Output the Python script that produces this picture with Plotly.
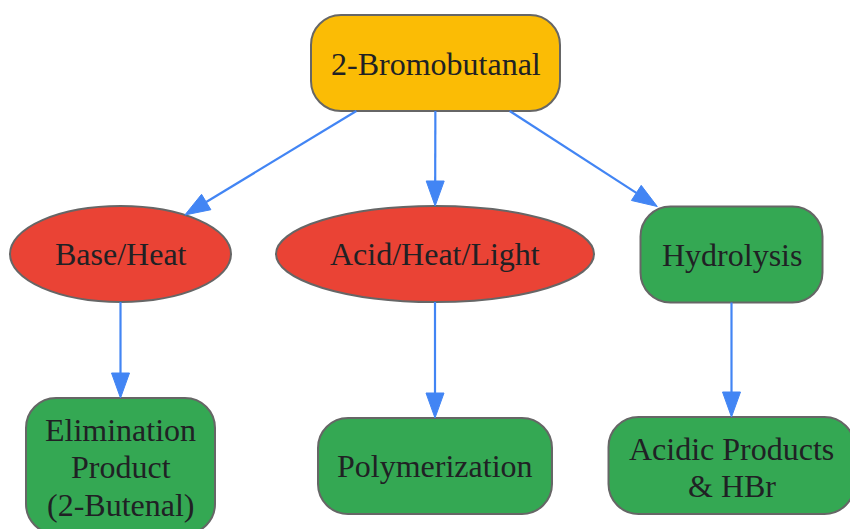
import plotly.graph_objects as go
import math

# ---- data ----
node_labels = ["2-Bromobutanal", "Base/Heat", "Acid/Heat/Light", "Hydrolysis",
               "Elimination<br>Product<br>(2-Butenal)", "Polymerization",
               "Acidic Products<br>& HBr"]
edge_src = [0, 0, 0, 1, 2, 3]
edge_dst = [1, 2, 3, 4, 5, 6]

# ---- layout / style (pixel coordinates) ----
node_cx = [435.5, 120.5, 435, 731.5, 120.5, 435, 731.5]
node_cy = [63, 254, 254, 254.5, 466, 466, 465.5]
node_w = [249, 221, 318, 182, 189, 234, 246]
node_h = [96, 96, 96, 96, 136, 96, 97]
node_shape = ["round", "ellipse", "ellipse", "round", "round", "round", "round"]
node_fill = ["#FBBC05", "#EA4335", "#EA4335", "#34A853", "#34A853", "#34A853", "#34A853"]
text_y_off = [1, 0, 0, 0, 1, 0, 2]
BORDER = "#666666"
EDGE = "#4285F4"
TEXT = "#202124"
FONT_SIZE = 32
LINE_GAP = 37.5
RADIUS = 30
AH_LEN, AH_HW = 25, 9
W, H = 850, 529

fig = go.Figure()
shapes = []

K = 0.5523
def rounded_path(cx, cy, w, h, r):
    x0, x1, y0, y1 = cx - w/2, cx + w/2, cy - h/2, cy + h/2
    c = r * (1 - K)
    return (f"M {x0+r},{y0} L {x1-r},{y0} C {x1-c},{y0} {x1},{y0+c} {x1},{y0+r} "
            f"L {x1},{y1-r} C {x1},{y1-c} {x1-c},{y1} {x1-r},{y1} L {x0+r},{y1} "
            f"C {x0+c},{y1} {x0},{y1-c} {x0},{y1-r} L {x0},{y0+r} "
            f"C {x0},{y0+c} {x0+c},{y0} {x0+r},{y0} Z")

for i in range(len(node_labels)):
    cx, cy, w, h = node_cx[i], node_cy[i], node_w[i], node_h[i]
    if node_shape[i] == "ellipse":
        shapes.append(dict(type="circle", xref="x", yref="y",
                           x0=cx - w/2, x1=cx + w/2, y0=cy - h/2, y1=cy + h/2,
                           fillcolor=node_fill[i], line=dict(color=BORDER, width=2),
                           layer="above"))
    else:
        shapes.append(dict(type="path", xref="x", yref="y",
                           path=rounded_path(cx, cy, w, h, RADIUS),
                           fillcolor=node_fill[i], line=dict(color=BORDER, width=2),
                           layer="above"))

def clip(i, dx, dy):
    w, h = node_w[i]/2, node_h[i]/2
    if node_shape[i] == "ellipse":
        return 1.0 / math.sqrt((dx/w)**2 + (dy/h)**2)
    ts = []
    if dx != 0:
        ts.append(w/abs(dx))
    if dy != 0:
        ts.append(h/abs(dy))
    return min(ts)

for s, d in zip(edge_src, edge_dst):
    dx = node_cx[d] - node_cx[s]
    dy = node_cy[d] - node_cy[s]
    L = math.hypot(dx, dy)
    ux, uy = dx/L, dy/L
    ts = clip(s, ux, uy)
    td = clip(d, -ux, -uy)
    sx, sy = node_cx[s] + ux*ts, node_cy[s] + uy*ts
    tx, ty = node_cx[d] - ux*td, node_cy[d] - uy*td
    bx, by = tx - ux*AH_LEN, ty - uy*AH_LEN
    shapes.append(dict(type="line", xref="x", yref="y", x0=sx, y0=sy, x1=bx, y1=by,
                       line=dict(color=EDGE, width=2.2), layer="above"))
    px, py = -uy, ux
    shapes.append(dict(type="path", xref="x", yref="y",
                       path=f"M {tx},{ty} L {bx+px*AH_HW},{by+py*AH_HW} L {bx-px*AH_HW},{by-py*AH_HW} Z",
                       fillcolor=EDGE, line=dict(color=EDGE, width=1), layer="above"))

annotations = []
for i, lab in enumerate(node_labels):
    lines = lab.split("<br>")
    n = len(lines)
    for k, ln in enumerate(lines):
        yy = node_cy[i] + text_y_off[i] + (k - (n - 1) / 2) * LINE_GAP
        annotations.append(dict(x=node_cx[i], y=yy, xref="x", yref="y",
                                text=ln, showarrow=False,
                                font=dict(family="Liberation Serif", size=FONT_SIZE, color=TEXT),
                                align="center", xanchor="center", yanchor="middle"))

fig.update_layout(
    width=W, height=H, margin=dict(l=0, r=0, t=0, b=0),
    paper_bgcolor="white", plot_bgcolor="white",
    xaxis=dict(range=[0, W], visible=False, fixedrange=True),
    yaxis=dict(range=[H, 0], visible=False, fixedrange=True),
    shapes=shapes, annotations=annotations, showlegend=False,
)
fig.write_html("out.html", config={"displayModeBar": False},
               post_script="document.body.style.margin='0';document.body.style.overflow='hidden';")
